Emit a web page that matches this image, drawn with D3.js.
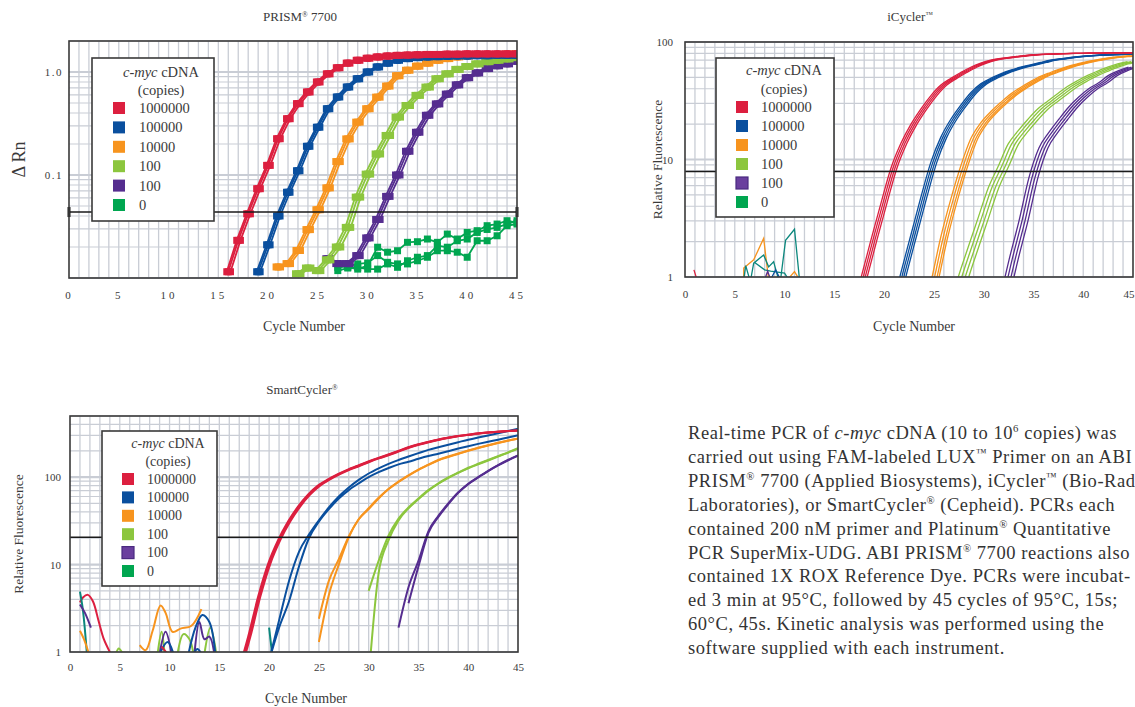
<!DOCTYPE html>
<html>
<head>
<meta charset="utf-8">
<script src="https://cdn.jsdelivr.net/npm/d3@7/dist/d3.min.js"></script>
<style>
  body { margin: 0; background: #fff; }
  text { font-family: "Liberation Serif", "Times New Roman", serif; fill: #3a3a3a; }
</style>
</head>
<body>
<div id="svg-area"></div>
<script>
const width = 1135;
const height = 707;

const cycleTicks = [0, 5, 10, 15, 20, 25, 30, 35, 40, 45];
const legendLabels = ['1000000', '100000', '10000', '100', '100', '0'];
const colors = ['#dc1f3f', '#0a4f9e', '#f7941e', '#8cc63e', '#552d8f', '#00a650'];
const teal = '#0b877d';

// ---- PRISM 7700, delta Rn, one value per cycle from prismStarts
const prismStarts = [16, 19, 21, 23, 26];
const prismRed = [0.0115, 0.0232, 0.042, 0.0736, 0.124, 0.225, 0.352, 0.493, 0.64, 0.8, 0.96, 1.1, 1.22, 1.3, 1.36, 1.40, 1.43, 1.45, 1.46, 1.47, 1.48, 1.48, 1.49, 1.49, 1.5, 1.5, 1.5, 1.5, 1.5, 1.5];
const prismBlue = [0.0115, 0.021, 0.040, 0.068, 0.110, 0.19, 0.291, 0.44, 0.572, 0.715, 0.86, 1.0, 1.12, 1.22, 1.30, 1.35, 1.38, 1.40, 1.41, 1.42, 1.43, 1.43, 1.44, 1.44, 1.45, 1.45, 1.45];
const prismOrange = [0.0128, 0.0138, 0.0185, 0.0295, 0.046, 0.075, 0.135, 0.224, 0.326, 0.44, 0.57, 0.73, 0.92, 1.04, 1.14, 1.22, 1.30, 1.35, 1.40, 1.43, 1.45, 1.47, 1.48, 1.49, 1.5];
const prismLime = [0.011, 0.0125, 0.0118, 0.015, 0.020, 0.031, 0.061, 0.102, 0.160, 0.242, 0.365, 0.473, 0.593, 0.714, 0.86, 0.96, 1.06, 1.13, 1.2, 1.26, 1.3, 1.34, 1.38];
const prismPurple = [0.0154, 0.0138, 0.0138, 0.0165, 0.0245, 0.037, 0.062, 0.10, 0.17, 0.26, 0.38, 0.49, 0.61, 0.75, 0.88, 0.98, 1.08, 1.15, 1.2, 1.27];
const prismShifts = [[0, 0.22, -0.15], [0, 0.2, -0.15], [0, 0.25, -0.2], [0, 0.3, -0.25], [0, 0.25, -0.2]];
// no-template wells, cycles 27-45
const prismBlankA = [0.0137, 0.0127, 0.0122, 0.0132, 0.0199, 0.0178, 0.0184, 0.0222, 0.0225, 0.0239, 0.0222, 0.0267, 0.0239, 0.0277, 0.0288, 0.0322, 0.0334, 0.036, 0.0344];
const prismBlankB = [0.0127, 0.013, 0.0137, 0.014, 0.0165, 0.0142, 0.0137, 0.0137, 0.0147, 0.0159, 0.0184, 0.0184, 0.0178, 0.0159, 0.023, 0.023, 0.0257, 0.0322, 0.0334];
const prismBlankC = [0.0118, 0.0125, 0.0127, 0.0122, 0.0122, 0.0137, 0.0127, 0.0147, 0.0159, 0.0165, 0.0206, 0.0199, 0.023, 0.0239, 0.0277, 0.0296, 0.031, 0.0334, 0.036];
const prismBlankStart = 27;
const prismThreshold = 0.0437;

// ---- iCycler, relative fluorescence
const icStarts = [17, 21, 24, 27, 32];
const icRed = [0.5, 1.0, 2.1, 4.3, 8.5, 13.8, 20, 27, 35, 43, 49, 55, 61, 66, 70, 72.5, 74.5, 76, 77.5, 78.5, 79, 79.5, 80, 80, 80.5, 80.5, 81, 81, 81];
const icBlue = [0.5, 1.1, 2.3, 4.8, 9.5, 15.5, 22, 29, 37, 44, 49, 53.5, 57.5, 61, 64, 67, 70, 72, 74, 75.5, 76.5, 77.5, 78, 78.5, 79];
const icOrange = [0.4, 0.9, 2.2, 4.6, 8.8, 15, 20.5, 25.5, 30.5, 36, 41, 46, 51, 55, 59, 63, 66, 69, 71.5, 73.5, 75, 76];
const icLime = [0.5, 1.0, 1.8, 3.2, 5.7, 8.7, 13.5, 17.5, 22, 27, 31.5, 36.5, 42, 47, 52, 56.5, 61, 65, 68];
const icPurple = [0.6, 1.4, 3.0, 7.0, 12.5, 17, 22, 28, 34, 40, 45, 52, 57, 61];
const icShifts = [[-0.3, -0.1, 0.1, 0.3], [-0.3, -0.1, 0.1, 0.3], [-0.3, -0.05, 0.2, 0.4], [-0.55, -0.2, 0.15, 0.5], [-0.45, -0.15, 0.15, 0.45]];
const icNoise = [
  {c: 2, pts: [[5.9, 0.9], [5.9, 1.19], [6.9, 1.40], [7.9, 2.13], [8.4, 0.95]]},
  {c: 2, pts: [[10.3, 0.95], [11.0, 1.11], [11.5, 0.95]]},
  {c: 6, pts: [[5.9, 0.95], [6.1, 1.25], [6.5, 0.95]]},
  {c: 6, pts: [[6.6, 0.95], [6.9, 1.31], [7.9, 1.54], [8.4, 1.22], [8.9, 1.35], [9.4, 0.95]]},
  {c: 6, pts: [[7.0, 1.33], [8.0, 1.15], [8.6, 1.12], [9.3, 1.1], [10.0, 1.08], [10.4, 0.95]]},
  {c: 6, pts: [[9.6, 0.95], [10.1, 2.05], [11.0, 2.55], [11.5, 0.95]]},
  {c: 1, pts: [[8.6, 0.95], [9.1, 1.15], [9.6, 0.95]]},
  {c: 4, pts: [[8.0, 0.95], [8.3, 1.12], [8.6, 0.95]]},
  {c: 0, pts: [[0.9, 1.15], [1.2, 0.95]]}
];
const icThreshold = 7.9;

// ---- SmartCycler, relative fluorescence
const scRed = [0.6, 1.5, 4.3, 10.2, 19, 31, 46, 63, 80, 94, 108, 122, 135, 150, 165, 180, 198, 218, 236, 252, 268, 282, 295, 305, 315, 323, 330, 336, 341];
const scRedStart = 17;
const scRedShifts = [-0.1, 0, 0.12];
const scBlueA = [0.8, 2.3, 6.5, 14, 22, 32, 45, 60, 76, 93, 110, 126, 142, 157, 172, 188, 205, 220, 235, 251, 268, 284, 300, 318, 337, 356];
const scBlueB = [0.8, 1.9, 3.8, 9.5, 20, 31, 43, 57, 71, 85, 100, 114, 127, 140, 150, 162, 174, 185, 198, 212, 226, 240, 254, 268, 284, 300];
const scOrangeA = [1.3, 4.5, 10, 20.5, 33, 43, 57, 73, 88, 104, 121, 138, 156, 170, 184, 200, 215, 230, 245, 260, 274];
const scOrangeB = [2.4, 6.5, 11.5, 21, 33, 44, 58, 73, 89, 105, 122, 139, 157, 172, 186, 202, 217, 232, 247, 262, 277];
const scLimeA = [0.5, 8, 19, 32, 44, 56, 70, 84, 98, 112, 126, 140, 155, 172, 190, 211];
const scLimeB = [5.0, 11, 21.5, 33.5, 45, 57, 71, 85, 99, 113, 128, 142, 157, 174, 192, 214];
const scPurpleA = [1.9, 5.5, 11, 24, 36, 50, 67, 84, 100, 118, 137, 157, 177];
const scPurpleB = [3.6, 9.5, 23, 35, 49, 66, 83, 99, 117, 136, 156, 176];
const scStarts = {blue: 20, orange: 25, lime: 30, purpleA: 33, purpleB: 34};
const scNoise = [
  {c: 0, pts: [[1.0, 3.7], [1.3, 4.2], [1.8, 4.5], [2.3, 3.8], [2.9, 2.2], [3.4, 1.4], [4.1, 0.95]]},
  {c: 6, pts: [[1.0, 4.9], [1.3, 3.0], [1.7, 0.95]]},
  {c: 4, pts: [[1.0, 3.5], [1.5, 2.8], [2.1, 1.9]]},
  {c: 2, pts: [[1.0, 1.75], [1.4, 1.4], [1.9, 0.95]]},
  {c: 3, pts: [[4.6, 0.95], [4.9, 1.1], [5.3, 0.95]]},
  {c: 2, pts: [[7.0, 1.2], [7.6, 1.05], [8.3, 1.75], [9.1, 3.4], [9.6, 2.8], [10.3, 1.7], [11.1, 1.85], [12.2, 2.0], [13.2, 3.1]]},
  {c: 3, pts: [[8.8, 0.95], [9.2, 1.7], [9.5, 0.95]]},
  {c: 3, pts: [[10.8, 0.95], [11.4, 1.6], [12.0, 1.4], [12.4, 0.95]]},
  {c: 3, pts: [[13.5, 0.95], [14.1, 1.9], [14.7, 0.95]]},
  {c: 4, pts: [[9.0, 0.95], [9.6, 1.7], [10.2, 0.95]]},
  {c: 4, pts: [[12.5, 0.95], [13.0, 2.2], [13.5, 1.4], [14.0, 1.5], [14.5, 0.95]]},
  {c: 1, pts: [[9.0, 0.95], [9.8, 1.3], [10.4, 0.95]]},
  {c: 1, pts: [[11.9, 0.95], [12.6, 1.9], [13.3, 2.65], [14.0, 2.2], [14.6, 0.95]]},
  {c: 1, pts: [[12.4, 0.95], [12.8, 1.08], [13.2, 0.95]]},
  {c: 0, pts: [[9.2, 1.15], [9.8, 0.95]]},
  {c: 6, pts: [[20.0, 1.9], [20.3, 0.95]]}
];
const scThreshold = 20.5;

const bodyLines = [
  'Real-time PCR of _c-myc_ cDNA (10 to 10^6^ copies) was',
  'carried out using FAM-labeled LUX^™^ Primer on an ABI',
  'PRISM^®^ 7700 (Applied Biosystems), iCycler^™^ (Bio-Rad',
  'Laboratories), or SmartCycler^®^ (Cepheid). PCRs each',
  'contained 200 nM primer and Platinum^®^ Quantitative',
  'PCR SuperMix-UDG. ABI PRISM^®^ 7700 reactions also',
  'contained 1X ROX Reference Dye. PCRs were incubat-',
  'ed 3 min at 95°C, followed by 45 cycles of 95°C, 15s;',
  '60°C, 45s. Kinetic analysis was performed using the',
  'software supplied with each instrument.'
];

const svg = d3.select('#svg-area').append('svg')
  .attr('width', width).attr('height', height);
const defs = svg.append('defs');

// text with _italic_ and ^superscript^ parts
function richText(sel, str, supShift) {
  const parts = str.split(/(\^[^^]+\^|_[^_]+_)/).filter(s => s.length);
  let up = false;
  parts.forEach(p => {
    const ts = sel.append('tspan');
    if (p[0] === '^') {
      ts.text(p.slice(1, -1)).attr('dy', -supShift).style('font-size', '58%');
      up = true;
    } else {
      ts.text(p[0] === '_' ? p.slice(1, -1) : p);
      if (p[0] === '_') ts.style('font-style', 'italic');
      if (up) { ts.attr('dy', supShift); up = false; }
    }
  });
  return sel;
}

function drawFrame(cfg) {
  const x = d3.scaleLinear().domain([0, 45]).range([cfg.left, cfg.right]);
  const y = d3.scaleLog().domain(cfg.yDomain).range([cfg.bottom, cfg.top]);
  const g = svg.append('g');

  defs.append('clipPath').attr('id', 'clip-' + cfg.id)
    .append('rect').attr('x', cfg.left).attr('y', cfg.top)
    .attr('width', cfg.right - cfg.left).attr('height', cfg.bottom - cfg.top);

  const grid = g.append('g');
  grid.selectAll('line.v').data(d3.range(1, 45)).join('line')
    .attr('x1', d => x(d)).attr('x2', d => x(d))
    .attr('y1', cfg.top).attr('y2', cfg.bottom)
    .attr('stroke', '#c9cdd5').attr('stroke-width', 1.3);
  grid.selectAll('line.h').data(y.ticks()).join('line')
    .attr('x1', cfg.left).attr('x2', cfg.right)
    .attr('y1', d => y(d)).attr('y2', d => y(d))
    .attr('stroke', '#c9cdd5')
    .attr('stroke-width', d => Math.abs(Math.log10(d) - Math.round(Math.log10(d))) < 1e-6 ? 2.2 : 1.2);

  const xAxis = g.append('g')
    .attr('transform', `translate(0, ${cfg.bottom})`)
    .call(d3.axisBottom(x).tickValues(cycleTicks).tickSize(0).tickPadding(cfg.xPad))
    .call(a => a.select('.domain').remove());
  xAxis.selectAll('text')
    .style('font-family', '"Liberation Serif", serif')
    .style('font-size', cfg.tickSize + 'px')
    .style('fill', '#3a3a3a')
    .style('letter-spacing', cfg.tickSpacing + 'px');
  if (cfg.lastTickEnd) {
    xAxis.selectAll('.tick').filter(d => d === 45).select('text')
      .attr('text-anchor', 'end').attr('x', width - cfg.right - 1);
  }

  const yAxis = g.append('g')
    .attr('transform', `translate(${cfg.left}, 0)`)
    .call(d3.axisLeft(y).tickValues(cfg.yTicks).tickFormat((d, i) => cfg.yLabels[i])
      .tickSize(0).tickPadding(cfg.yPad))
    .call(a => a.select('.domain').remove());
  yAxis.selectAll('text')
    .style('font-family', '"Liberation Serif", serif')
    .style('font-size', cfg.tickSize + 'px')
    .style('fill', '#3a3a3a')
    .style('letter-spacing', cfg.yTickSpacing + 'px');

  const plot = g.append('g').attr('clip-path', `url(#clip-${cfg.id})`);

  richText(g.append('text').attr('x', cfg.titleX).attr('y', cfg.titleY)
    .attr('text-anchor', 'middle').style('font-size', '13px'), cfg.title, 4);
  g.append('text').attr('x', cfg.titleX + 4).attr('y', cfg.xLabelY)
    .attr('text-anchor', 'middle').style('font-size', '14px').text('Cycle Number');
  g.append('text')
    .attr('transform', `translate(${cfg.yLabelX}, ${(cfg.top + cfg.bottom) / 2}) rotate(-90)`)
    .attr('text-anchor', 'middle').attr('dominant-baseline', 'central')
    .style('font-size', cfg.yLabelSize + 'px').text(cfg.yLabel);

  return {g, x, y, plot, cfg};
}

function finishFrame(f, threshold, caps) {
  const {g, x, y, cfg} = f;
  g.append('line')
    .attr('x1', cfg.left).attr('x2', cfg.right)
    .attr('y1', y(threshold)).attr('y2', y(threshold))
    .attr('stroke', '#1a1a1a').attr('stroke-width', 1.5);
  if (caps) {
    [cfg.left, cfg.right].forEach(px => g.append('rect')
      .attr('x', px - 1.5).attr('y', y(threshold) - 5).attr('width', 3).attr('height', 10)
      .attr('fill', '#1a1a1a'));
  }
  g.append('rect')
    .attr('x', cfg.left).attr('y', cfg.top)
    .attr('width', cfg.right - cfg.left).attr('height', cfg.bottom - cfg.top)
    .attr('fill', 'none').attr('stroke', '#3a3a3a').attr('stroke-width', 1.6);
}

function drawLegend(lg) {
  const g = svg.append('g');
  g.append('rect').attr('x', lg.x).attr('y', lg.y).attr('width', lg.w).attr('height', lg.h)
    .attr('fill', '#fff').attr('stroke', '#3a3a3a').attr('stroke-width', 1.6);
  richText(g.append('text').attr('x', lg.cx).attr('y', lg.titleY)
    .attr('text-anchor', 'middle').attr('dominant-baseline', 'central')
    .style('font-size', lg.font + 'px'), '_c-myc_ cDNA', 0);
  g.append('text').attr('x', lg.cx).attr('y', lg.titleY + lg.copiesGap)
    .attr('text-anchor', 'middle').attr('dominant-baseline', 'central')
    .style('font-size', lg.font + 'px').text('(copies)');
  legendLabels.forEach((lab, i) => {
    const cy = lg.rowY + i * lg.step;
    g.append('rect').attr('x', lg.swX).attr('y', cy - 6).attr('width', 12).attr('height', 12)
      .attr('fill', i === 4 ? lg.purple : colors[i])
      .attr('stroke', i === 4 && lg.purpleEdge ? '#4a2a80' : 'none').attr('stroke-width', 1.2);
    g.append('text').attr('x', lg.txX).attr('y', cy).attr('dominant-baseline', 'central')
      .style('font-size', lg.font + 'px').text(lab);
  });
}

const toPoints = (values, start, shift) => values.map((v, i) => [start + i + shift, v]);

// ================= PRISM 7700 =================
const p1 = drawFrame({
  id: 'prism', left: 69, right: 517, top: 41, bottom: 278, yDomain: [0.01, 2],
  yTicks: [0.1, 1], yLabels: ['0.1', '1.0'], yPad: 6, yTickSpacing: 1.5,
  xPad: 13, tickSize: 11, tickSpacing: 3,
  title: 'PRISM^®^ 7700', titleX: 300, titleY: 21, xLabelY: 331,
  yLabel: 'Δ Rn', yLabelX: 19, yLabelSize: 18
});
{
  const {x, y, plot} = p1;
  const line = d3.line().x(d => x(d[0])).y(d => y(d[1]));
  const drawMarked = (pts, color) => {
    plot.append('path').datum(pts).attr('d', line)
      .attr('fill', 'none').attr('stroke', color).attr('stroke-width', 1.8);
    plot.append('g').selectAll('rect').data(pts).join('rect')
      .attr('x', d => x(d[0]) - 3.5).attr('y', d => y(d[1]) - 3.5)
      .attr('width', 7).attr('height', 7).attr('fill', color);
  };
  [prismBlankA, prismBlankB, prismBlankC].forEach(vals =>
    drawMarked(toPoints(vals, prismBlankStart, 0), colors[5]));
  const curves = [prismRed, prismBlue, prismOrange, prismLime, prismPurple];
  [4, 3, 2, 1, 0].forEach(k => {
    prismShifts[k].forEach(s => drawMarked(toPoints(curves[k], prismStarts[k], s), colors[k]));
  });
  finishFrame(p1, prismThreshold, true);
}
drawLegend({x: 92, y: 58, w: 122, h: 163, cx: 161, titleY: 72, copiesGap: 17.5,
  rowY: 108, step: 19.4, swX: 113, txX: 139, font: 14.5, purple: colors[4], purpleEdge: false});

// ================= iCycler =================
const p2 = drawFrame({
  id: 'icycler', left: 685, right: 1133, top: 42, bottom: 277, yDomain: [1, 100],
  yTicks: [1, 10, 100], yLabels: ['1', '10', '100'], yPad: 12, yTickSpacing: 0,
  xPad: 13, tickSize: 11, tickSpacing: 0, lastTickEnd: true,
  title: 'iCycler^™^', titleX: 910, titleY: 21, xLabelY: 331,
  yLabel: 'Relative Fluorescence', yLabelX: 657, yLabelSize: 13.5
});
{
  const {x, y, plot} = p2;
  const line = d3.line().x(d => x(d[0])).y(d => y(d[1]));
  icNoise.forEach(n => plot.append('path').datum(n.pts).attr('d', line)
    .attr('fill', 'none').attr('stroke', n.c === 6 ? teal : colors[n.c]).attr('stroke-width', 1.3));
  const curves = [icRed, icBlue, icOrange, icLime, icPurple];
  [4, 3, 2, 1, 0].forEach(k => {
    icShifts[k].forEach(s => plot.append('path').datum(toPoints(curves[k], icStarts[k], s))
      .attr('d', line.curve(d3.curveMonotoneX))
      .attr('fill', 'none').attr('stroke', colors[k]).attr('stroke-width', 1.3));
  });
  finishFrame(p2, icThreshold, false);
}
drawLegend({x: 716, y: 58, w: 118, h: 159, cx: 784, titleY: 70, copiesGap: 19,
  rowY: 107, step: 19, swX: 736, txX: 761, font: 14.5, purple: '#6a3f9e', purpleEdge: true});

// ================= SmartCycler =================
const p3 = drawFrame({
  id: 'smart', left: 70, right: 518, top: 416, bottom: 652, yDomain: [1, 500],
  yTicks: [1, 10, 100], yLabels: ['1', '10', '100'], yPad: 9, yTickSpacing: 0,
  xPad: 11, tickSize: 11, tickSpacing: 0,
  title: 'SmartCycler^®^', titleX: 302, titleY: 394, xLabelY: 703,
  yLabel: 'Relative Fluorescence', yLabelX: 18, yLabelSize: 13.5
});
{
  const {x, y, plot} = p3;
  const line = d3.line().x(d => x(d[0])).y(d => y(d[1])).curve(d3.curveMonotoneX);
  const smooth = d3.line().x(d => x(d[0])).y(d => y(d[1])).curve(d3.curveCatmullRom);
  scNoise.forEach(n => plot.append('path').datum(n.pts).attr('d', smooth)
    .attr('fill', 'none').attr('stroke', n.c === 6 ? teal : colors[n.c]).attr('stroke-width', 2));
  const draw = (pts, color, w) => plot.append('path').datum(pts).attr('d', line)
    .attr('fill', 'none').attr('stroke', color).attr('stroke-width', w);
  draw(toPoints(scPurpleA, scStarts.purpleA, 0), colors[4], 2);
  draw(toPoints(scPurpleB, scStarts.purpleB, 0), colors[4], 2);
  draw(toPoints(scLimeA, scStarts.lime, 0), colors[3], 2);
  draw(toPoints(scLimeB, scStarts.lime, 0), colors[3], 2);
  draw(toPoints(scOrangeA, scStarts.orange, 0), colors[2], 2);
  draw(toPoints(scOrangeB, scStarts.orange, 0), colors[2], 2);
  draw(toPoints(scBlueA, scStarts.blue, 0), colors[1], 2);
  draw(toPoints(scBlueB, scStarts.blue, 0), colors[1], 2);
  scRedShifts.forEach(s => draw(toPoints(scRed, scRedStart, s), colors[0], 2));
  finishFrame(p3, scThreshold, false);
}
drawLegend({x: 102, y: 431, w: 115, h: 155, cx: 168, titleY: 443, copiesGap: 18,
  rowY: 479, step: 18.4, swX: 122, txX: 147, font: 14, purple: '#6a3f9e', purpleEdge: true});

// ================= caption =================
const caption = svg.append('g');
bodyLines.forEach((ln, i) => {
  richText(caption.append('text').attr('x', 688).attr('y', 439 + i * 23.9)
    .style('font-size', '18.5px').style('letter-spacing', '0.55px').style('fill', '#333'), ln, 7);
});
</script>
</body>
</html>
